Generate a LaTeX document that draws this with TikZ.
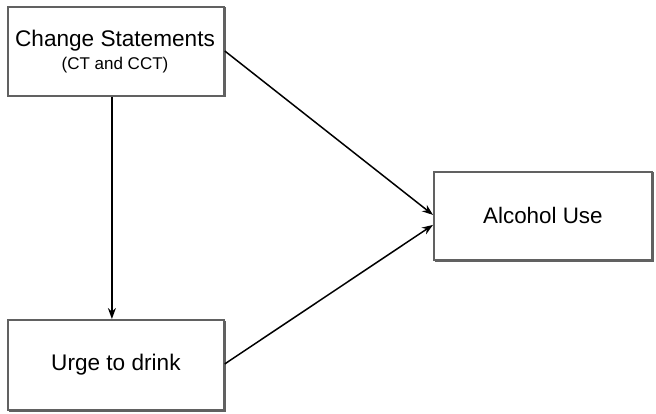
\documentclass[tikz,border=0pt]{standalone}
\usepackage{fontspec}
\setmainfont{Liberation Sans}
\usetikzlibrary{arrows.meta}
\begin{document}
\begin{tikzpicture}[x=1pt,y=-1pt,
  box/.style={draw=black!62,line width=1.8pt,fill=white,inner sep=0pt,anchor=north west},
  shade/.style={fill=black!62},
  conn/.style={line width=1.5pt,-{Stealth[length=11pt,width=8pt]}}]
\useasboundingbox (0,0) rectangle (656,414);
\fill[shade] (8.5,7.5) rectangle (225.5,97.5);
\node[box,minimum width=216pt,minimum height=89pt] (cs) at (7,6) {};
\node[font=\fontsize{22.6}{26}\selectfont,anchor=base] (cst) at (115,47) {Change Statements};
\node[font=\fontsize{17}{20}\selectfont,anchor=base] (cct) at (115,70) {(CT and CCT)};
\fill[shade] (8.5,320.5) rectangle (225.5,411.5);
\node[box,minimum width=216pt,minimum height=90pt,font=\fontsize{22.6}{26}\selectfont] (ur) at (7,319) {Urge to drink};
\fill[shade] (434.5,172.5) rectangle (653.5,261.5);
\node[box,minimum width=218pt,minimum height=88pt,font=\fontsize{22.4}{26}\selectfont] (au) at (433,171) {Alcohol Use};
\draw[conn] ([xshift=-4pt]cs.south) -- ([xshift=-4pt]ur.north);
\draw[conn] ([yshift=-45pt]cs.north east) -- ([yshift=1pt]au.west);
\draw[conn] ([yshift=1pt]ur.east) -- ([yshift=-9pt]au.west);
\end{tikzpicture}
\end{document}
